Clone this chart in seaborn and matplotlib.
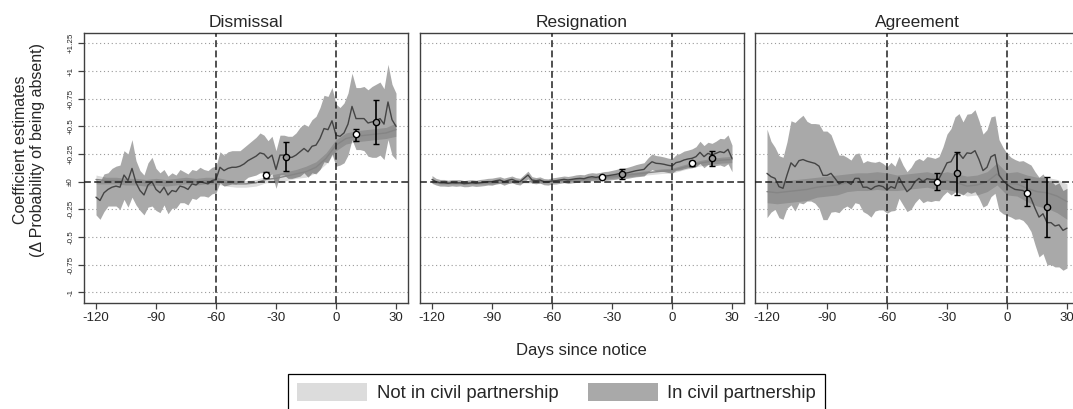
import numpy as np
import pandas as pd
import matplotlib
matplotlib.use("Agg")
import matplotlib.pyplot as plt
import seaborn as sns
from matplotlib.patches import Patch

# ---------------------------------------------------------------------------
# Data: daily event-study coefficients (Days since notice), by exit type
# ---------------------------------------------------------------------------
panels = ["Dismissal", "Resignation", "Agreement"]
groups = ["Not in civil partnership", "In civil partnership"]

days_cp = np.arange(-120, 31, 2)    # grid for the civil-partnership series
days_ncp = np.arange(-120, 31, 5)   # grid for the comparison series

# In civil partnership: point estimate and half-width of the 95% band
dis_cp = [-0.14, -0.17, -0.10, -0.07, -0.05, -0.04, -0.05, 0.06, 0.01, 0.12,
          -0.01, -0.08, -0.12, -0.03, 0.00, -0.07, -0.10, -0.05, -0.12, -0.08,
          -0.09, -0.04, -0.05, -0.07, -0.02, -0.03, 0.00, -0.01, -0.02, 0.01,
          0.02, 0.13, 0.10, 0.12, 0.13, 0.13, 0.14, 0.16, 0.19, 0.21,
          0.23, 0.26, 0.25, 0.21, 0.24, 0.11, 0.24, 0.24, 0.22, 0.22,
          0.24, 0.27, 0.30, 0.27, 0.32, 0.33, 0.39, 0.48, 0.47, 0.55,
          0.42, 0.41, 0.44, 0.52, 0.68, 0.57, 0.57, 0.57, 0.53, 0.54,
          0.55, 0.57, 0.52, 0.72, 0.56, 0.50]
dis_cp_hw = [0.16, 0.17, 0.17, 0.15, 0.17, 0.18, 0.20, 0.22, 0.24, 0.26,
             0.20, 0.18, 0.18, 0.20, 0.22, 0.19, 0.18, 0.16, 0.17, 0.16,
             0.15, 0.15, 0.14, 0.14, 0.13, 0.13, 0.13, 0.12, 0.12, 0.12,
             0.12, 0.14, 0.14, 0.15, 0.15, 0.15, 0.14, 0.15, 0.15, 0.16,
             0.17, 0.18, 0.17, 0.16, 0.17, 0.17, 0.18, 0.18, 0.19, 0.19,
             0.20, 0.22, 0.22, 0.23, 0.24, 0.26, 0.28, 0.30, 0.30, 0.30,
             0.28, 0.26, 0.27, 0.28, 0.30, 0.28, 0.28, 0.29, 0.30, 0.32,
             0.33, 0.33, 0.32, 0.34, 0.32, 0.30]

res_cp = [0.02, 0.00, -0.01, -0.01, -0.015, -0.01, -0.012, -0.01, -0.018, -0.015,
          -0.01, -0.015, -0.01, -0.006, 0.00, 0.00, 0.009, 0.015, 0.00, 0.012,
          0.021, 0.006, 0.00, 0.03, 0.06, 0.015, 0.009, 0.015, 0.00, -0.003,
          0.006, 0.009, 0.015, 0.021, 0.015, 0.021, 0.027, 0.03, 0.027, 0.039,
          0.045, 0.039, 0.045, 0.051, 0.054, 0.06, 0.066, 0.075, 0.075, 0.081,
          0.09, 0.099, 0.105, 0.111, 0.15, 0.18, 0.166, 0.163, 0.157, 0.148,
          0.142, 0.172, 0.18, 0.196, 0.205, 0.211, 0.226, 0.265, 0.226, 0.256,
          0.241, 0.256, 0.271, 0.262, 0.292, 0.21]
res_cp_hw = [0.035, 0.03, 0.03, 0.03, 0.028, 0.028, 0.03, 0.028, 0.028, 0.03,
             0.028, 0.028, 0.03, 0.03, 0.03, 0.032, 0.03, 0.03, 0.032, 0.03,
             0.03, 0.03, 0.03, 0.032, 0.035, 0.03, 0.028, 0.028, 0.028, 0.028,
             0.028, 0.03, 0.03, 0.03, 0.032, 0.032, 0.034, 0.035, 0.035, 0.036,
             0.036, 0.038, 0.038, 0.04, 0.04, 0.042, 0.044, 0.046, 0.048, 0.05,
             0.052, 0.055, 0.058, 0.06, 0.065, 0.07, 0.07, 0.068, 0.066, 0.065,
             0.065, 0.07, 0.075, 0.08, 0.08, 0.085, 0.09, 0.10, 0.10, 0.10,
             0.105, 0.11, 0.12, 0.125, 0.13, 0.12]

agr_cp = [0.075, 0.045, 0.03, -0.045, -0.06, 0.06, 0.17, 0.135, 0.19, 0.20,
          0.185, 0.175, 0.165, 0.14, 0.057, 0.057, 0.075, 0.03, -0.02, 0.00,
          0.00, -0.025, 0.03, 0.03, -0.05, -0.05, -0.07, -0.045, -0.035, -0.045,
          -0.075, -0.045, -0.06, 0.04, -0.03, -0.09, -0.06, 0.00, 0.03, 0.00,
          0.027, 0.02, 0.02, 0.027, 0.096, 0.17, 0.18, 0.245, 0.255, 0.21,
          0.26, 0.255, 0.28, 0.20, 0.10, 0.13, 0.225, 0.245, 0.06, 0.01,
          -0.025, -0.05, -0.07, -0.075, -0.08, -0.11, -0.15, -0.24, -0.32, -0.29,
          -0.37, -0.37, -0.40, -0.39, -0.44, -0.42]
agr_cp_hw = [0.40, 0.32, 0.28, 0.28, 0.28, 0.30, 0.38, 0.40, 0.38, 0.40,
             0.36, 0.35, 0.36, 0.38, 0.40, 0.40, 0.35, 0.30, 0.26, 0.24,
             0.22, 0.22, 0.22, 0.23, 0.22, 0.24, 0.25, 0.22, 0.22, 0.21,
             0.21, 0.22, 0.20, 0.19, 0.18, 0.18, 0.19, 0.19, 0.18, 0.19,
             0.20, 0.20, 0.19, 0.20, 0.22, 0.26, 0.30, 0.34, 0.36, 0.33,
             0.35, 0.36, 0.37, 0.35, 0.33, 0.34, 0.36, 0.35, 0.32, 0.30,
             0.28, 0.27, 0.27, 0.26, 0.27, 0.28, 0.30, 0.33, 0.36, 0.36,
             0.38, 0.38, 0.37, 0.38, 0.36, 0.36]

# Not in civil partnership: point estimate and half-width of the 95% band
dis_ncp = [0.02, 0.01, 0.01, 0.00, 0.00, -0.01, 0.00, -0.01, 0.00, 0.01,
           0.00, 0.01, 0.01, -0.01, -0.02, -0.02, -0.01, 0.02, 0.03, 0.05,
           0.07, 0.09, 0.13, 0.21, 0.33, 0.39, 0.41, 0.42, 0.43, 0.44,
           0.47]
dis_ncp_hw = [0.04, 0.03, 0.03, 0.03, 0.03, 0.03, 0.03, 0.03, 0.03, 0.03,
              0.03, 0.03, 0.03, 0.03, 0.03, 0.03, 0.03, 0.03, 0.04, 0.04,
              0.04, 0.05, 0.05, 0.05, 0.05, 0.05, 0.05, 0.05, 0.05, 0.05,
              0.06]

res_ncp = [0.00, -0.01, -0.01, -0.01, -0.01, -0.01, -0.01, -0.005, 0.00, 0.00,
           0.00, 0.00, 0.005, 0.01, 0.015, 0.02, 0.03, 0.035, 0.045, 0.055,
           0.065, 0.075, 0.085, 0.095, 0.10, 0.125, 0.15, 0.17, 0.185, 0.195,
           0.20]
res_ncp_hw = [0.012, 0.012, 0.012, 0.012, 0.012, 0.012, 0.012, 0.012, 0.012, 0.012,
              0.012, 0.012, 0.012, 0.013, 0.013, 0.014, 0.015, 0.015, 0.016, 0.017,
              0.018, 0.019, 0.02, 0.021, 0.022, 0.023, 0.024, 0.025, 0.026, 0.027,
              0.028]

agr_ncp = [-0.09, -0.10, -0.09, -0.08, -0.07, -0.05, -0.04, -0.03, -0.01, 0.00,
           0.00, 0.01, 0.00, -0.01, 0.00, 0.01, 0.02, 0.00, 0.01, -0.01,
           -0.04, -0.03, 0.00, 0.07, -0.02, -0.02, -0.06, -0.09, -0.10, -0.13,
           -0.18]
agr_ncp_hw = [0.10, 0.10, 0.10, 0.10, 0.10, 0.09, 0.09, 0.09, 0.08, 0.08,
              0.08, 0.08, 0.08, 0.07, 0.07, 0.07, 0.07, 0.07, 0.08, 0.08,
              0.09, 0.09, 0.09, 0.10, 0.10, 0.11, 0.12, 0.13, 0.14, 0.15,
              0.16]

# Pooled window estimates with 95% confidence intervals
pe_days = [-35, -25, 10, 20]
pe_group = [0, 1, 0, 1]
dis_pe = [0.06, 0.226, 0.43, 0.54]
dis_pe_lo = [0.036, 0.096, 0.37, 0.34]
dis_pe_hi = [0.084, 0.36, 0.48, 0.74]
res_pe = [0.04, 0.07, 0.165, 0.217]
res_pe_lo = [0.03, 0.02, 0.14, 0.145]
res_pe_hi = [0.05, 0.11, 0.19, 0.28]
agr_pe = [0.0, 0.075, -0.10, -0.23]
agr_pe_lo = [-0.075, -0.12, -0.22, -0.50]
agr_pe_hi = [0.075, 0.265, 0.02, 0.045]

x_ticks = [-120, -90, -60, -30, 0, 30]
y_ticks = [-1, -0.75, -0.5, -0.25, 0, 0.25, 0.5, 0.75, 1, 1.25]
y_tick_labels = ["-1", "-0.75", "-0.5", "-0.25", "\u00b10",
                 "+0.25", "+0.5", "+0.75", "+1", "+1.25"]

series = {
    "Dismissal": (dis_cp, dis_cp_hw, dis_ncp, dis_ncp_hw, dis_pe, dis_pe_lo, dis_pe_hi),
    "Resignation": (res_cp, res_cp_hw, res_ncp, res_ncp_hw, res_pe, res_pe_lo, res_pe_hi),
    "Agreement": (agr_cp, agr_cp_hw, agr_ncp, agr_ncp_hw, agr_pe, agr_pe_lo, agr_pe_hi),
}

# ---------------------------------------------------------------------------
# Styling
# ---------------------------------------------------------------------------
sns.set_style("white")
plt.rcParams["font.family"] = ["Liberation Sans", "DejaVu Sans"]

band_cp = "#a9a9a9"
band_ncp = "#dcdcdc"
line_cp = "#444444"
line_ncp = "#858585"
frame_col = "#404040"

W, H = 1073, 409
fig = plt.figure(figsize=(W / 100, H / 100), dpi=100)


def box(left, top, right, bottom):
    return [left / W, 1 - bottom / H, (right - left) / W, (bottom - top) / H]


lefts = [84, 420, 755]
for i, name in enumerate(panels):
    cp, cp_hw, ncp, ncp_hw, pe, pe_lo, pe_hi = (np.asarray(a, float) for a in series[name])
    ax = fig.add_axes(box(lefts[i], 33, lefts[i] + 324, 303))

    # horizontal dotted guides
    for yv in y_ticks:
        if yv != 0:
            ax.axhline(yv, color="#9a9a9a", lw=0.8, ls=(0, (1, 2.5)), zorder=0)

    # confidence bands
    ax.fill_between(days_cp, cp - cp_hw, cp + cp_hw, color=band_cp, lw=0, zorder=1)
    ax.fill_between(days_ncp, ncp - ncp_hw, ncp + ncp_hw, color="black",
                    alpha=0.14, lw=0, zorder=2)

    df = pd.concat([
        pd.DataFrame({"day": days_ncp, "value": ncp, "group": groups[0]}),
        pd.DataFrame({"day": days_cp, "value": cp, "group": groups[1]}),
    ], ignore_index=True)
    sns.lineplot(data=df, x="day", y="value", hue="group", hue_order=groups,
                 palette={groups[0]: line_ncp, groups[1]: line_cp},
                 estimator=None, errorbar=None, legend=False, lw=1.0,
                 zorder=3, ax=ax)

    # reference lines
    dash = (0, (4.5, 2.2))
    ax.axhline(0, color="#222222", lw=1.1, ls=dash, zorder=4)
    for xv in (-60, 0):
        ax.axvline(xv, color="#222222", lw=1.1, ls=dash, zorder=4)

    # pooled estimates
    for d, g, est, lo, hi in zip(pe_days, pe_group, pe, pe_lo, pe_hi):
        ax.errorbar([d], [est], yerr=[[est - lo], [hi - est]], fmt="o",
                    ms=4.5, mfc="white" if g == 0 else "#9a9a9a", mec="black",
                    mew=1.0, ecolor="black", elinewidth=1.2, capsize=2.4,
                    capthick=1.2, zorder=6)

    ax.set_xlim(-126, 36)
    ax.set_ylim(-1.096, 1.343)
    ax.set_xticks(x_ticks)
    ax.set_xticklabels([str(t) for t in x_ticks])
    ax.set_xlabel("")
    ax.set_ylabel("")
    ax.tick_params(axis="x", direction="out", length=4.5, width=0.9,
                   color=frame_col, pad=2, labelsize=9.5, bottom=True)
    if i == 0:
        ax.set_yticks(y_ticks)
        ax.set_yticklabels(y_tick_labels, rotation=90, va="center")
        ax.tick_params(axis="y", direction="out", length=4, width=0.9,
                       color=frame_col, pad=3, labelsize=5.8, left=True)
    else:
        ax.set_yticks([])
    for sp in ax.spines.values():
        sp.set_visible(True)
        sp.set_color(frame_col)
        sp.set_linewidth(1.0)
    ax.set_title(name, fontsize=12.5, pad=4)

fig.text(581 / W, 1 - 350 / H, "Days since notice", ha="center", va="center",
         fontsize=12)
fig.text(29 / W, 1 - 150 / H,
         "Coefficient estimates\n(\u0394 Probability of being absent)",
         rotation=90, ha="center", va="center", fontsize=11.5, linespacing=1.1)

handles = [Patch(facecolor=band_ncp, edgecolor="none"),
           Patch(facecolor=band_cp, edgecolor="none")]
leg = fig.legend(handles, groups, loc="upper left",
                 bbox_to_anchor=(288 / W, 1 - 374 / H), ncol=2, frameon=True,
                 fancybox=False, edgecolor="black", framealpha=1, fontsize=13.3,
                 handlelength=3.8, handleheight=1.08, handletextpad=0.5,
                 columnspacing=1.6, borderpad=0.5, borderaxespad=0)
leg.get_frame().set_linewidth(0.9)

fig.savefig("out.png", dpi=100)
